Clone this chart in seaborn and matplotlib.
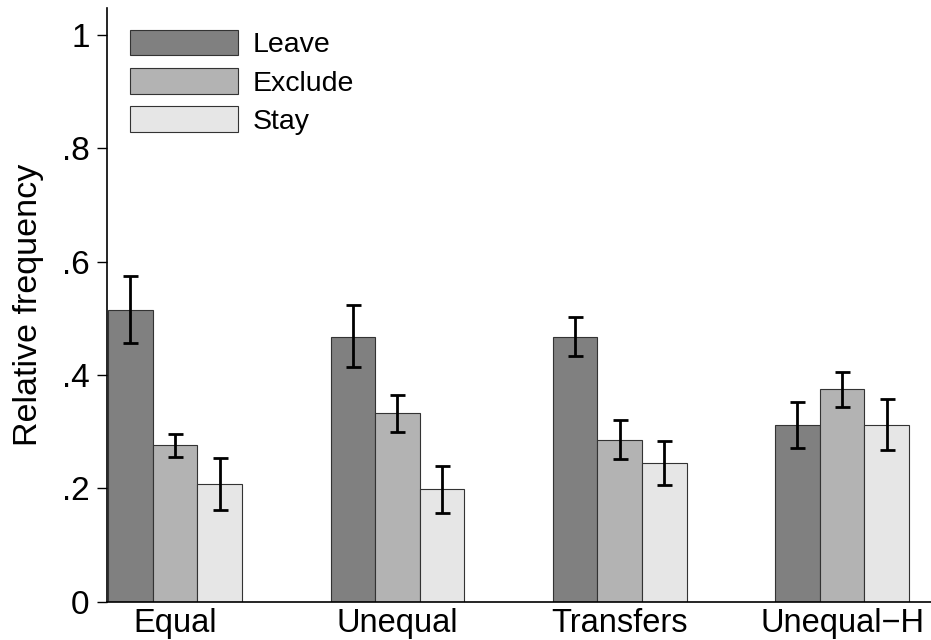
import numpy as np
import pandas as pd
import matplotlib
matplotlib.use("Agg")
import matplotlib.pyplot as plt
import seaborn as sns

# values
treatments = ["Equal", "Unequal", "Transfers", "Unequal\u2212H"]
choices = ["Leave", "Exclude", "Stay"]

leave = [0.515, 0.468, 0.468, 0.312]
exclude = [0.276, 0.333, 0.286, 0.375]
stay = [0.208, 0.198, 0.244, 0.312]

leave_lo = [0.456, 0.414, 0.434, 0.271]
leave_hi = [0.575, 0.523, 0.503, 0.353]
exclude_lo = [0.256, 0.300, 0.251, 0.343]
exclude_hi = [0.296, 0.365, 0.321, 0.406]
stay_lo = [0.162, 0.156, 0.205, 0.268]
stay_hi = [0.254, 0.240, 0.284, 0.357]

colors = ["#808080", "#b3b3b3", "#e6e6e6"]

df = pd.DataFrame({
    "Treatment": treatments * 3,
    "Choice": np.repeat(choices, len(treatments)),
    "Freq": leave + exclude + stay,
    "lo": leave_lo + exclude_lo + stay_lo,
    "hi": leave_hi + exclude_hi + stay_hi,
})

sns.set_style("white")
plt.rcParams["font.family"] = ["Liberation Sans", "DejaVu Sans"]
plt.rcParams["text.color"] = "black"
plt.rcParams["axes.labelcolor"] = "black"
plt.rcParams["xtick.color"] = "black"
plt.rcParams["ytick.color"] = "black"

fig = plt.figure(figsize=(9.31, 6.4), dpi=100)
ax = fig.add_axes([0.115, 0.06, 0.885, 0.9275])

sns.barplot(data=df, x="Treatment", y="Freq", hue="Choice", order=treatments,
            hue_order=choices, palette=colors, width=0.602, errorbar=None,
            edgecolor="#333333", linewidth=0.8, saturation=1, legend=False, ax=ax)
bars = list(ax.containers)

# error bars at bar centres
for cont, ch in zip(bars, choices):
    sub = df[df["Choice"] == ch].set_index("Treatment").loc[treatments]
    xs = [p.get_x() + p.get_width() / 2 for p in cont.patches]
    yerr = [sub["Freq"] - sub["lo"], sub["hi"] - sub["Freq"]]
    ax.errorbar(xs, sub["Freq"], yerr=yerr, fmt="none", ecolor="black",
                elinewidth=2.0, capsize=5.4, capthick=2.0)

ax.set_xlim(-0.306, 3.4)
ax.set_ylim(0, 1.048)
ax.set_yticks([0, 0.2, 0.4, 0.6, 0.8, 1])
ax.set_yticklabels(["0", ".2", ".4", ".6", ".8", "1"])
ax.tick_params(axis="y", left=True, length=7.5, width=1, labelsize=24, pad=5)
ax.tick_params(axis="x", bottom=False, labelsize=23.5, pad=1)
ax.set_xlabel("")
ax.set_ylabel("Relative frequency", fontsize=24.5, labelpad=13)

sns.despine(ax=ax)
for s in ["left", "bottom"]:
    ax.spines[s].set_color("black")
    ax.spines[s].set_linewidth(1.2)

handles = [c.patches[0] for c in bars]
ax.legend(handles, choices, loc="upper left", bbox_to_anchor=(0.028, 0.963),
          frameon=False, fontsize=20.5, handlelength=3.8, handleheight=1.0,
          labelspacing=0.34, handletextpad=0.5, borderpad=0, borderaxespad=0)

fig.savefig("out.png", dpi=100)
